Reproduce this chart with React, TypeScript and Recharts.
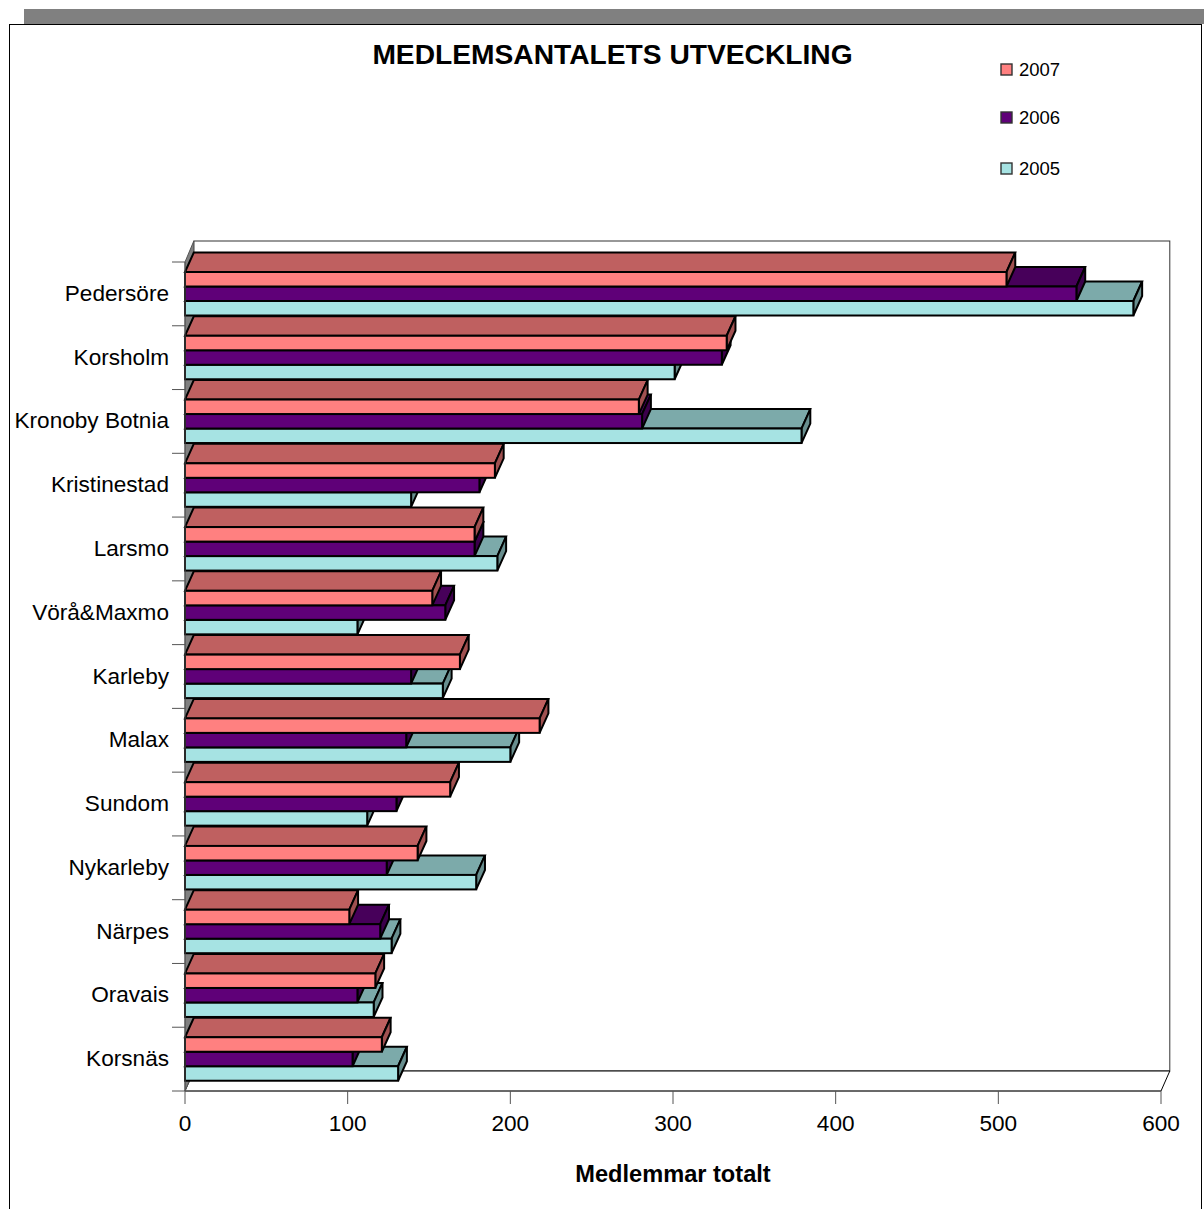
import React from 'react';
import { BarChart, Bar, XAxis, YAxis, Customized, Legend } from 'recharts';

const categories = ['Pedersöre', 'Korsholm', 'Kronoby Botnia', 'Kristinestad', 'Larsmo', 'Vörå&Maxmo', 'Karleby', 'Malax', 'Sundom', 'Nykarleby', 'Närpes', 'Oravais', 'Korsnäs'];
const values2007 = [505, 333, 279, 190.5, 178, 152, 169, 218, 163, 143, 101, 117, 121];
const values2006 = [548, 330, 281, 181, 178, 160, 139, 136, 130, 124, 120, 106, 103];
const values2005 = [583, 301, 379, 139, 192, 106, 158.5, 200, 112, 179, 127, 116, 131];
const xTicks = [0, 100, 200, 300, 400, 500, 600];
const titleText = 'MEDLEMSANTALETS UTVECKLING';
const xAxisTitle = 'Medlemmar totalt';

const data = categories.map((name, i) => ({ name, y2007: values2007[i], y2006: values2006[i], y2005: values2005[i] }));

const FONT = '"Liberation Sans", Arial, sans-serif';
const W = 1204;
const H = 1209;
const LEFT = 185;
const RIGHT = 1161;
const TOP = 262;
const BOTTOM = 1091;
const BAND = (BOTTOM - TOP) / categories.length;
const BAR = 14.5;
const DX = 8.8;
const DY = 19.5;

const colors = {
  y2007: { front: '#FF8080', top: '#BF6060', side: '#A05050' },
  y2006: { front: '#5F0078', top: '#47005A', side: '#3B004B' },
  y2005: { front: '#A6E3E3', top: '#7CAAAA', side: '#688E8E' },
};
const legendItems = [
  { label: '2007', color: colors.y2007.front, y: 69.5 },
  { label: '2006', color: colors.y2006.front, y: 117.5 },
  { label: '2005', color: colors.y2005.front, y: 168.5 },
];

// Painted back to front (2005, 2006, 2007) but 2007 sits on top of the group: slotShift moves a
// bar from its paint-order slot to its visual slot.
const makeShape = (key: 'y2007' | 'y2006' | 'y2005', slotShift: number) => (props: any) => {
  const { x, y, width, height } = props;
  const c = colors[key];
  const yy = y + slotShift * height;
  const r = x + width;
  const b = yy + height;
  return (
    <g stroke="#000" strokeWidth={2} strokeLinejoin="miter">
      <polygon fill={c.top} points={`${x},${yy} ${x + DX},${yy - DY} ${r + DX},${yy - DY} ${r},${yy}`} />
      <polygon fill={c.side} points={`${r},${yy} ${r + DX},${yy - DY} ${r + DX},${b - DY} ${r},${b}`} />
      <rect fill={c.front} x={x} y={yy} width={width} height={height} />
    </g>
  );
};

const Backdrop = () => (
  <g>
    <text x={612.5} y={64} textAnchor="middle" fontFamily={FONT} fontWeight="bold" fontSize={28.2} fill="#000">{titleText}</text>
    <rect x={LEFT + DX} y={TOP - 21} width={RIGHT - LEFT} height={BOTTOM - TOP + 1} fill="#fff" stroke="#333" strokeWidth={1} />
    <polygon fill="#fff" stroke="#000" strokeWidth={1} points={`${LEFT},${BOTTOM} ${LEFT + DX},${BOTTOM - 20} ${RIGHT + DX},${BOTTOM - 20} ${RIGHT},${BOTTOM}`} />
    <polygon fill="#808080" stroke="#555" strokeWidth={1} points={`${LEFT},${TOP} ${LEFT + DX},${TOP - 21} ${LEFT + DX},${BOTTOM - 20} ${LEFT},${BOTTOM}`} />
  </g>
);

const CategoryTick = (props: any) => {
  const { y, payload, index } = props;
  const top = y - BAND / 2;
  return (
    <g>
      <line x1={172} x2={LEFT} y1={top} y2={top} stroke="#555" strokeWidth={1} />
      {index === categories.length - 1 && <line x1={172} x2={LEFT} y1={top + BAND} y2={top + BAND} stroke="#555" strokeWidth={1} />}
      <text x={169} y={y + 7} textAnchor="end" fontFamily={FONT} fontSize={22.6} fill="#000">{payload.value}</text>
    </g>
  );
};

const LegendBox = () => (
  <svg width={W} height={200} style={{ position: 'absolute', left: 0, top: 0, pointerEvents: 'none' }}>
    {legendItems.map((it) => (
      <g key={it.label}>
        <rect x={1001} y={it.y - 5.5} width={11} height={11} fill={it.color} stroke="#333" strokeWidth={1.4} />
        <text x={1019} y={it.y + 6.5} fontFamily={FONT} fontSize={18.5} fill="#000">{it.label}</text>
      </g>
    ))}
  </svg>
);

export default function App() {
  return (
    <div style={{ position: 'absolute', left: 0, top: 0, width: W, height: H, overflow: 'hidden', background: '#fff' }}>
      <div style={{ position: 'absolute', left: 24, top: 9, width: W - 24, height: 15, background: '#808080' }} />
      <div style={{ position: 'absolute', left: 9, top: 24, width: W - 11, height: H, border: '1px solid #000', boxSizing: 'border-box', borderWidth: '1.5px' }} />
      <BarChart
        width={W}
        height={H}
        data={data}
        layout="vertical"
        margin={{ top: TOP, right: W - RIGHT, bottom: 0, left: 0 }}
        barGap={0}
        barSize={BAR}
      >
        <Customized component={<Backdrop />} />
        <XAxis
          type="number"
          domain={[0, 600]}
          ticks={xTicks}
          height={H - BOTTOM}
          tickSize={13}
          tickLine={{ stroke: '#555' }}
          axisLine={{ stroke: '#555' }}
          tick={{ fontFamily: FONT, fontSize: 22.6, fill: '#000' }}
          tickMargin={11}
          label={{ value: xAxisTitle, position: 'insideBottom', offset: 27, style: { fontFamily: FONT, fontWeight: 'bold', fontSize: 23.6, fill: '#000' } }}
        />
        <YAxis
          type="category"
          dataKey="name"
          width={LEFT}
          interval={0}
          tickLine={false}
          axisLine={{ stroke: '#555' }}
          tick={<CategoryTick />}
        />
        <Legend content={<LegendBox />} wrapperStyle={{ position: 'absolute', top: 0, left: 0, bottom: 'auto', width: W, height: 0 }} />
        <Bar dataKey="y2005" isAnimationActive={false} shape={makeShape('y2005', 2)} />
        <Bar dataKey="y2006" isAnimationActive={false} shape={makeShape('y2006', 0)} />
        <Bar dataKey="y2007" isAnimationActive={false} shape={makeShape('y2007', -2)} />
      </BarChart>
    </div>
  );
}
